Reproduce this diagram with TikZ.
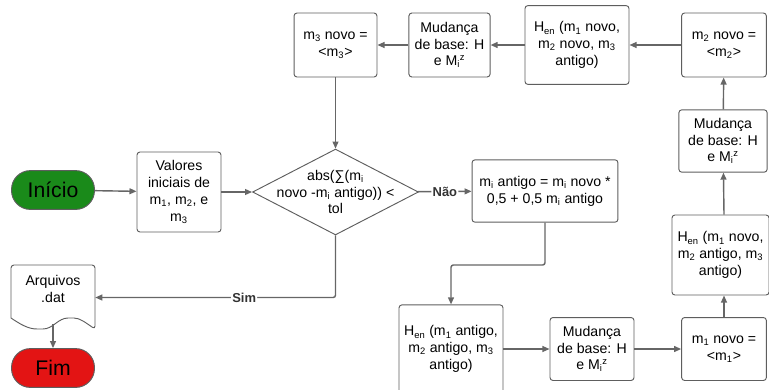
\documentclass[tikz,border=0pt]{standalone}
\usepackage{fontspec}
\setmainfont{Liberation Sans}
\usetikzlibrary{shapes.geometric,arrows.meta}

\definecolor{linha}{HTML}{666666}
\definecolor{borda}{HTML}{5E5E5E}
\definecolor{verde}{HTML}{1A8A1A}
\definecolor{vermelho}{HTML}{E31414}

\newcommand{\mz}{M\textsubscript{i}\textsuperscript{z}}

\tikzset{
	caixa/.style={draw=borda, line width=0.8pt, rounded corners=2.5pt, fill=white, align=center, inner sep=1pt, font=\fontsize{12}{14.2}\selectfont},
	terminal/.style={draw=borda, line width=0.8pt, rounded corners=16pt, minimum width=70.5pt, minimum height=33pt, inner sep=0pt, font=\fontsize{18}{20}\selectfont},
	seta/.style={draw=linha, line width=1.2pt, rounded corners=2pt, -{Triangle[length=6pt,width=5pt]}},
	rotulo/.style={fill=white, inner sep=1pt, text=black!80, font=\bfseries\fontsize{11}{13}\selectfont}
}

\begin{document}
\begin{tikzpicture}[x=0.85pt, y=-0.85pt]
		\begingroup
		\useasboundingbox (0,0) rectangle (769,389);
		
		\node[terminal, fill=verde] (inicio) at (53,190) {Início};
		\node[caixa, minimum width=71.4pt, minimum height=68pt] (valores) at (179,192) {Valores\\iniciais de\\m\textsubscript{1}, m\textsubscript{2}, e\\m\textsubscript{3}};
		\node[draw=borda, line width=0.8pt, fill=white, diamond, inner sep=0pt, minimum width=141pt, minimum height=73pt,
			label={[align=center, font=\fontsize{12}{14.2}\selectfont]center:abs(∑(m\textsubscript{i}\\novo -m\textsubscript{i} antigo)) <\\tol}] (dec) at (335.5,192) {};
		\node[caixa, minimum width=124pt, minimum height=53pt] (antigo) at (545,191) {m\textsubscript{i} antigo = m\textsubscript{i} novo *\\0,5 + 0,5 m\textsubscript{i} antigo};
		
		\node[caixa, minimum width=88.4pt, minimum height=75pt] (henb) at (451,349) {H\textsubscript{en} (m\textsubscript{1} antigo,\\m\textsubscript{2} antigo, m\textsubscript{3}\\antigo)};
		\node[caixa, minimum width=71.4pt, minimum height=53.5pt] (mudc) at (592,349) {Mudança\\de base: H\\e \mz};
		\node[caixa, minimum width=72pt, minimum height=53.5pt] (m1) at (724,349) {m\textsubscript{1} novo =\\<m\textsubscript{1}>};
		\node[caixa, minimum width=82.5pt, minimum height=68pt] (henc) at (720.5,255) {H\textsubscript{en} (m\textsubscript{1} novo,\\m\textsubscript{2} antigo, m\textsubscript{3}\\antigo)};
		\node[caixa, minimum width=75pt, minimum height=53pt] (mudb) at (723,141) {Mudança\\de base: H\\e \mz};
		\node[caixa, minimum width=72pt, minimum height=54.4pt] (m2) at (724,45) {m\textsubscript{2} novo =\\<m\textsubscript{2}>};
		\node[caixa, minimum width=88.4pt, minimum height=67pt] (hena) at (577,45) {H\textsubscript{en} (m\textsubscript{1} novo,\\m\textsubscript{2} novo, m\textsubscript{3}\\antigo)};
		\node[caixa, minimum width=69pt, minimum height=54.4pt] (muda) at (449.5,45) {Mudança\\de base: H\\e \mz};
		\node[caixa, minimum width=70.5pt, minimum height=54.4pt] (m3) at (335.5,45) {m\textsubscript{3} novo =\\<m\textsubscript{3}>};
		
		% documento
		\draw[borda, line width=0.8pt, fill=white, rounded corners=2.5pt] (11,318) -- (11,265) -- (95,265) -- (95,329)
			.. controls (86,323) and (80,318) .. (71,318) .. controls (58,318) and (53,329) .. (40,329)
			.. controls (28,329) and (20,324) .. (11,318);
		\node[minimum width=71.4pt, minimum height=55pt, inner sep=0pt,
			label={[align=center, yshift=7pt, font=\fontsize{12}{14.2}\selectfont]center:Arquivos\\.dat}] (arq) at (53,297.5) {};
		\node[terminal, fill=vermelho] (fim) at (53,368) {Fim};
		
		\draw[seta] (inicio) -- (valores);
		\draw[seta] (valores) -- (dec);
		\draw[seta] (dec) -- node[rotulo] {Não} (antigo);
		\coordinate (dobra) at (451,265);
		\draw[seta] (antigo.south) |- (dobra) -- (henb);
		\draw[seta] (henb) -- (mudc);
		\draw[seta] (mudc) -- (m1);
		\draw[seta] (m1) -- (m1 |- henc.south);
		\draw[seta] (m1 |- henc.north) -- (mudb);
		\draw[seta] (mudb) -- (m2);
		\draw[seta] (m2) -- (hena);
		\draw[seta] (hena) -- (muda);
		\draw[seta] (muda) -- (m3);
		\draw[seta] (m3) -- (dec);
		\draw[seta] (dec.south) |- node[rotulo, pos=0.69] {Sim} (arq.east);
		\draw[seta] (53,324) -- (fim);
		\endgroup
		\end{tikzpicture}
\end{document}
